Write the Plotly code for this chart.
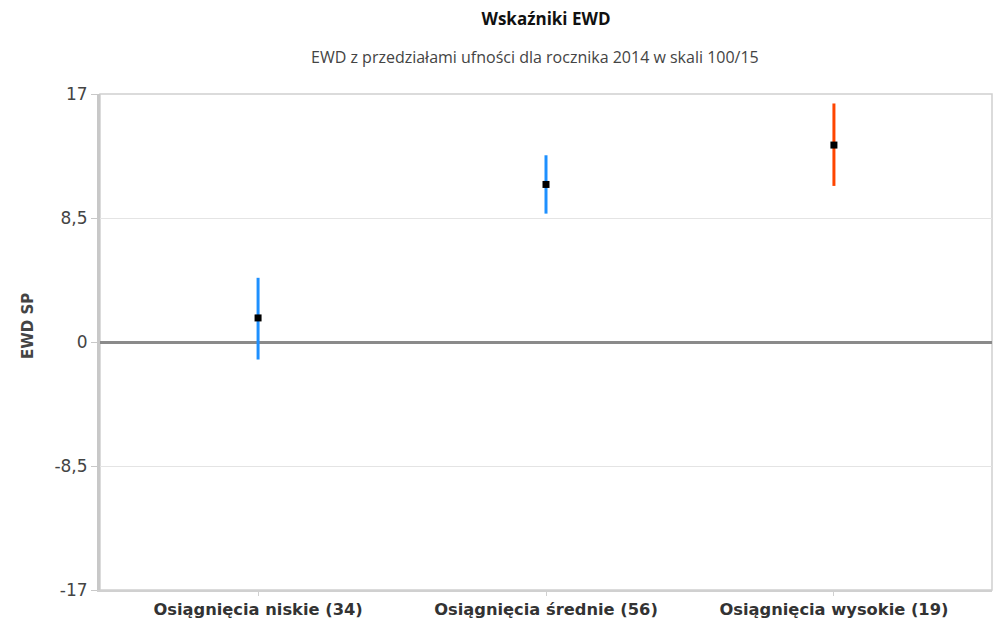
import plotly.graph_objects as go

categories = ["Osiągnięcia niskie (34)", "Osiągnięcia średnie (56)", "Osiągnięcia wysokie (19)"]
ewd_values = [1.65, 10.8, 13.5]
ci_lower = [-1.2, 8.8, 10.7]
ci_upper = [4.4, 12.8, 16.35]
bar_colors = ["#1e90ff", "#1e90ff", "#ff4500"]
y_ticks = [-17, -8.5, 0, 8.5, 17]
y_tick_labels = ["-17", "-8,5", "0", "8,5", "17"]

W, H = 998, 620
ML, MR, MT, MB = 100, 6, 94, 30

fig = go.Figure()
for cat, v, lo, hi, col in zip(categories, ewd_values, ci_lower, ci_upper, bar_colors):
    fig.add_trace(go.Scatter(
        x=[cat], y=[v], mode="markers",
        marker=dict(symbol="square", size=7, color="#000000"),
        error_y=dict(type="data", symmetric=False, array=[hi - v], arrayminus=[v - lo],
                     color=col, thickness=3, width=0),
        showlegend=False,
        hovertemplate="%{x}<br>EWD: %{y}<extra></extra>",
    ))

plot_w = W - ML - MR
plot_h = H - MT - MB
fig.update_layout(
    width=W, height=H,
    paper_bgcolor="white", plot_bgcolor="white",
    margin=dict(l=ML, r=MR, t=MT, b=MB, autoexpand=False),
    title=dict(
        text="<b>Wskaźniki EWD</b>",
        x=(ML + W - MR) / 2 / W, xanchor="center",
        y=1 - 19 / H, yref="container", yanchor="middle",
        font=dict(family="Open Sans", size=17, color="#111"),
    ),
    annotations=[
        dict(
            text="EWD z przedziałami ufności dla rocznika 2014 w skali 100/15",
            xref="paper", yref="paper", x=(535 - ML) / plot_w, y=1 + (MT - 57) / plot_h,
            xanchor="center", yanchor="middle", showarrow=False,
            font=dict(family="Open Sans", size=16, color="#444"),
        ),
        dict(
            text="<b>EWD SP</b>", textangle=-90,
            xref="paper", yref="paper", x=(28 - ML) / plot_w, y=(H - MB - 326) / plot_h,
            xanchor="center", yanchor="middle", showarrow=False,
            font=dict(family="DejaVu Sans", size=15, color="#444"),
        ),
    ],
    font=dict(family="DejaVu Sans", color="#444"),
    xaxis=dict(
        type="category", range=[-0.549, 2.549], automargin=False,
        showgrid=False, showline=True, linecolor="#d0d0d0", linewidth=1.5,
        ticks="outside", ticklen=4, tickcolor="#d0d0d0",
        tickfont=dict(family="DejaVu Sans", size=16.3, color="#333"),
        tickprefix="<b>", ticksuffix="</b>",
    ),
    yaxis=dict(
        range=[-17, 17], tickvals=y_ticks, ticktext=y_tick_labels, automargin=False,
        showgrid=True, gridcolor="#e4e4e4", gridwidth=1,
        zeroline=True, zerolinecolor="#8a8a8a", zerolinewidth=3,
        showline=True, linecolor="#c8c8c8", linewidth=3,
        ticks="outside", ticklen=6, tickcolor="#c8c8c8",
        tickfont=dict(family="DejaVu Sans", size=17, color="#444"),
    ),
    shapes=[dict(type="rect", xref="paper", yref="paper", x0=0, x1=1, y0=0, y1=1,
                 line=dict(color="#d0d0d0", width=1.5), fillcolor="rgba(0,0,0,0)", layer="below")],
)

fig.write_html("out.html", config={"displayModeBar": False},
               post_script="document.body.style.margin='0';document.body.style.overflow='hidden';")
